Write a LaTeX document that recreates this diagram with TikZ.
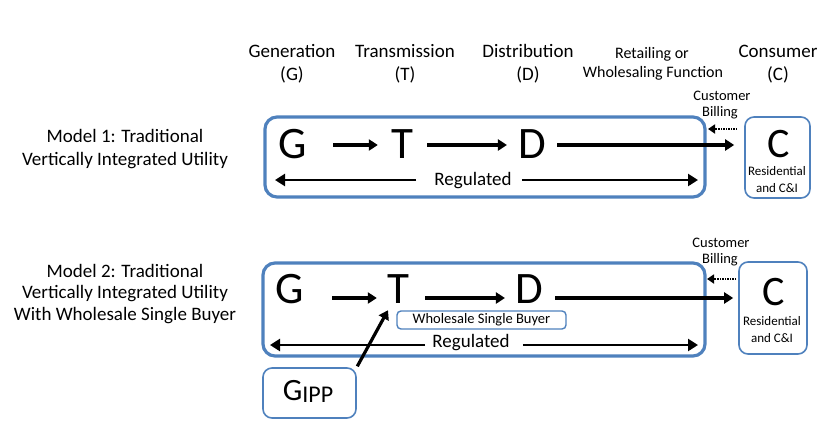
\documentclass[tikz,border=0pt]{standalone}
\usepackage{fontspec}
\setmainfont{Carlito}
\usetikzlibrary{arrows.meta}
\definecolor{frameblue}{RGB}{79,129,189}
\newcommand\setfs[1]{\fontsize{#1}{#1}\selectfont}
\begin{document}
\begin{tikzpicture}[x=1pt,y=-1pt,
  txt/.style={inner sep=0pt, anchor=base},
  hdr/.style={txt, font=\setfs{19}},
  letter/.style={txt, font=\setfs{45}},
  bigframe/.style={draw=frameblue, line width=3.2pt, rounded corners=12pt, inner sep=0pt},
  smallframe/.style={draw=frameblue, line width=1.6pt, rounded corners=9pt, inner sep=0pt},
  arr/.style={line width=3.2pt, -{Triangle[length=9pt,width=11pt]}},
  regarr/.style={line width=2.4pt, -{Triangle[length=10pt,width=12pt]}},
  dotarr/.style={line width=1.8pt, dash pattern=on 1.5pt off 1pt, -{Triangle[length=7pt,width=9pt]}}]
\useasboundingbox (0,0) rectangle (823,421);

% column headings
\node[hdr] (hG1) at (292,57) {Generation};
\node[hdr] (hG2) at (292,80) {(G)};
\node[hdr] (hT1) at (405,57) {Transmission};
\node[hdr] (hT2) at (405,80) {(T)};
\node[hdr] (hD1) at (528,57) {Distribution};
\node[hdr] (hD2) at (528,80) {(D)};
\node[txt, font=\setfs{16}] (hR1) at (652,58) {Retailing or};
\node[txt, font=\setfs{16}] (hR2) at (653,77) {Wholesaling Function};
\node[hdr] (hC1) at (778,57) {Consumer};
\node[hdr] (hC2) at (778,80) {(C)};

% row labels
\node[hdr] (m1a) at (125,142) {Model 1: Traditional};
\node[hdr] (m1b) at (125,165) {Vertically Integrated Utility};
\node[hdr] (m2a) at (125,277) {Model 2: Traditional};
\node[hdr] (m2b) at (125,298.5) {Vertically Integrated Utility};
\node[hdr] (m2c) at (125,320) {With Wholesale Single Buyer};

% ---------- Model 1 ----------
\node[bigframe, minimum width=440pt, minimum height=80pt] (frame1) at (485,157) {};
\node[smallframe, minimum width=65pt, minimum height=81pt] (cbox1) at (777.5,157.5) {};
\node[letter] (g1) at (293,158) {G};
\node[letter] (t1) at (402,158) {T};
\node[letter] (d1) at (532,158) {D};
\node[txt, font=\setfs{42}] (c1) at (778.5,157) {C};
\node[txt, font=\setfs{13}] (res1a) at (777,175) {Residential};
\node[txt, font=\setfs{13}] (res1b) at (777,192) {and C\&I};
\node[txt, font=\setfs{14.5}] (cb1a) at (722,100) {Customer};
\node[txt, font=\setfs{14.5}] (cb1b) at (720,116) {Billing};
\node[hdr] (reg1) at (473,185) {Regulated};

\coordinate (row1) at (0,145);
\coordinate (r1l) at (275,180);
\coordinate (r1r) at (698,180);
\coordinate (bill1) at (708,129);

\draw[arr, shorten <=25.8pt, shorten >=13pt] (g1.east |- row1) -- (t1.west |- row1);
\draw[arr, shorten <=14pt, shorten >=11pt] (t1.east |- row1) -- (d1.west |- row1);
\draw[arr, shorten <=11pt, shorten >=10pt] (d1.east |- row1) -- (cbox1.west |- row1);
\draw[regarr, shorten <=18pt] (reg1.west |- r1l) -- (r1l);
\draw[regarr, shorten <=10pt] (reg1.east |- r1r) -- (r1r);
\draw[dotarr, shorten <=7pt] (cbox1.west |- bill1) -- (bill1);

% ---------- Model 2 ----------
\node[bigframe, minimum width=442pt, minimum height=93pt] (frame2) at (484,309.5) {};
\node[smallframe, minimum width=68pt, minimum height=92pt] (cbox2) at (773,308) {};
\node[draw=frameblue, line width=1.4pt, rounded corners=4pt, inner sep=0pt,
      minimum width=169pt, minimum height=18pt, font=\setfs{14.5}] (wsb) at (481.5,320) {Wholesale Single Buyer};
\node[smallframe, minimum width=93pt, minimum height=50pt] (gippbox) at (309.5,393) {};
\node[txt, font=\setfs{31}] (gipp) at (308,400) {G\raisebox{-2pt}{\setfs{24}IPP}};
\node[letter] (g2) at (290,303) {G};
\node[letter] (t2) at (398,303) {T};
\node[letter] (d2) at (529,303) {D};
\node[txt, font=\setfs{42}] (c2) at (774,305) {C};
\node[txt, font=\setfs{13}] (res2a) at (772,325) {Residential};
\node[txt, font=\setfs{13}] (res2b) at (772,342) {and C\&I};
\node[txt, font=\setfs{14.5}] (cb2a) at (721,247) {Customer};
\node[txt, font=\setfs{14.5}] (cb2b) at (720,263) {Billing};
\node[hdr] (reg2) at (471,347) {Regulated};

\coordinate (row2) at (0,298);
\coordinate (r2l) at (270,345);
\coordinate (r2r) at (698,345);
\coordinate (bill2) at (707,279);

\draw[arr, shorten <=28pt, shorten >=10pt] (g2.east |- row2) -- (t2.west |- row2);
\draw[arr, shorten <=16pt, shorten >=10pt] (t2.east |- row2) -- (d2.west |- row2);
\draw[arr, shorten <=12pt, shorten >=5pt] (d2.east |- row2) -- (cbox2.west |- row2);
\draw[regarr, shorten <=7pt] (reg2.west |- r2l) -- (r2l);
\draw[regarr, shorten <=13pt] (reg2.east |- r2r) -- (r2r);
\draw[dotarr, shorten <=2pt] (cbox2.west |- bill2) -- (bill2);
\draw[arr, shorten <=1pt] (gippbox.north east) -- ([xshift=-10pt,yshift=-7pt]t2.south);
\end{tikzpicture}
\end{document}
